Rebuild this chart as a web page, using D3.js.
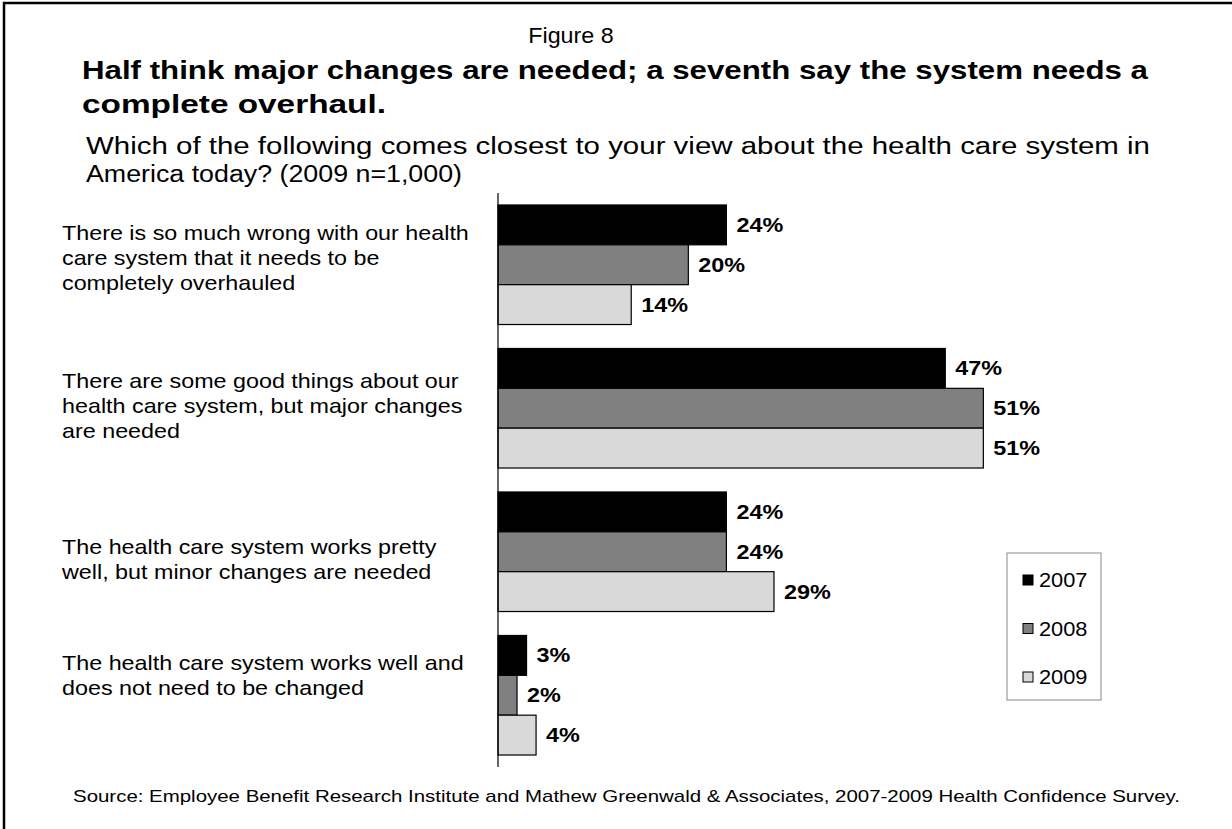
<!DOCTYPE html>
<html>
<head>
<meta charset="utf-8">
<script src="https://cdn.jsdelivr.net/npm/d3@7"></script>
<style>
  html, body { margin: 0; padding: 0; background: #fff; }
  svg { display: block; font-family: "Liberation Sans", Arial, Helvetica, sans-serif; }
</style>
</head>
<body>
<svg id="chart" width="1232" height="829"></svg>
<script>
// Survey responses, percent of respondents by year
const categories = [
  ["There is so much wrong with our health", "care system that it needs to be", "completely overhauled"],
  ["There are some good things about our", "health care system, but major changes", "are needed"],
  ["The health care system works pretty", "well, but minor changes are needed"],
  ["The health care system works well and", "does not need to be changed"]
];
const years = ["2007", "2008", "2009"];
const values2007 = [24, 47, 24, 3];
const values2008 = [20, 51, 24, 2];
const values2009 = [14, 51, 29, 4];
const yearColors = ["#000000", "#808080", "#d9d9d9"];

const titleLines = [
  "Half think major changes are needed; a seventh say the system needs a",
  "complete overhaul."
];
const questionLines = [
  "Which of the following comes closest to your view about the health care system in",
  "America today? (2009 n=1,000)"
];
const sourceText = "Source:  Employee Benefit Research Institute and Mathew Greenwald & Associates, 2007-2009 Health Confidence Survey.";

const series = [values2007, values2008, values2009];
const rows = categories.map((c, i) => ({
  key: i,
  lines: c,
  vals: years.map((y, j) => ({ year: y, idx: j, v: series[j][i] }))
}));

const svg = d3.select("#chart");

// The typeface here runs a little wider than Liberation Sans; widen each text run by a factor.
function widen(sel, factor) {
  sel.each(function() {
    const w = this.getComputedTextLength();
    d3.select(this).attr("textLength", w * factor).attr("lengthAdjust", "spacingAndGlyphs");
  });
}
// Fit a run of text to a set width.
function fitTo(sel, widthFn) {
  sel.attr("textLength", widthFn).attr("lengthAdjust", "spacingAndGlyphs");
}

// Outer frame
svg.append("rect")
  .attr("x", 4).attr("y", 3)
  .attr("width", 1240).attr("height", 840)
  .attr("fill", "none").attr("stroke", "#000").attr("stroke-width", 2.5);

// Heading block
const fig = svg.append("text")
  .attr("x", 571).attr("y", 43)
  .attr("text-anchor", "middle")
  .attr("font-size", 22)
  .text("Figure 8");
widen(fig, 1.06);

const titleWidths = [1066, 304];
const title = svg.append("g").selectAll("text")
  .data(titleLines).join("text")
  .attr("x", 82).attr("y", (d, i) => 79 + i * 34)
  .attr("font-size", 26).attr("font-weight", "bold")
  .text(d => d);
fitTo(title, (d, i) => titleWidths[i]);

const questionWidths = [1064, 376];
const question = svg.append("g").selectAll("text")
  .data(questionLines).join("text")
  .attr("x", 86).attr("y", (d, i) => 154 + i * 28)
  .attr("font-size", 23.5)
  .text(d => d);
fitTo(question, (d, i) => questionWidths[i]);

// Scales
const x0 = 498, yTop = 193, yBottom = 767;
const x = d3.scaleLinear().domain([0, 60]).range([x0, x0 + 571]);
const y = d3.scaleBand()
  .domain(rows.map(r => r.key))
  .range([yTop, yBottom])
  .paddingInner(0.167)
  .paddingOuter(0.0835);
const ySub = d3.scaleBand().domain(years).range([0, y.bandwidth()]);

// Bars
const groups = svg.append("g").selectAll("g")
  .data(rows).join("g")
  .attr("transform", d => `translate(0,${y(d.key)})`);

groups.selectAll("rect")
  .data(d => d.vals).join("rect")
  .attr("x", x(0))
  .attr("y", d => ySub(d.year))
  .attr("width", d => x(d.v) - x(0))
  .attr("height", ySub.bandwidth())
  .attr("fill", d => yearColors[d.idx])
  .attr("stroke", "#000").attr("stroke-width", 1.2);

const vals = groups.selectAll("text.val")
  .data(d => d.vals).join("text")
  .attr("class", "val")
  .attr("x", d => x(d.v) + 10)
  .attr("y", d => ySub(d.year) + ySub.bandwidth() / 2 + 7)
  .attr("font-size", 20).attr("font-weight", "bold")
  .text(d => d.v + "%");
widen(vals, 1.17);

// Category axis line
svg.append("line")
  .attr("x1", x0).attr("x2", x0)
  .attr("y1", yTop).attr("y2", yBottom)
  .attr("stroke", "#000").attr("stroke-width", 1.2);

// Category labels, nudged vertically per group
const lineH = 25;
const labelNudge = [-7, -2.5, 7.5, -20];
const catLabels = svg.append("g").selectAll("text")
  .data(rows).join("text")
  .attr("font-size", 21)
  .each(function(d) {
    const cy = y(d.key) + y.bandwidth() / 2 + labelNudge[d.key];
    const startY = cy - (d.lines.length - 1) * lineH / 2 + 7.5;
    d3.select(this).selectAll("tspan")
      .data(d.lines).join("tspan")
      .attr("x", 62)
      .attr("y", (l, i) => startY + i * lineH)
      .text(l => l);
  });
widen(catLabels.selectAll("tspan"), 1.11);

// Legend
const lg = svg.append("g");
lg.append("rect")
  .attr("x", 1007).attr("y", 553).attr("width", 94).attr("height", 147)
  .attr("fill", "#fff").attr("stroke", "#888").attr("stroke-width", 1);
const items = lg.selectAll("g").data(years).join("g")
  .attr("transform", (d, i) => `translate(1023,${580 + i * 48.5})`);
items.append("rect")
  .attr("x", 0).attr("y", -5).attr("width", 10).attr("height", 10)
  .attr("fill", (d, i) => yearColors[i])
  .attr("stroke", "#000").attr("stroke-width", 1);
const legText = items.append("text")
  .attr("x", 16).attr("y", 7)
  .attr("font-size", 20)
  .text(d => d);
widen(legText, 1.09);

// Source note
const src = svg.append("text")
  .attr("x", 73).attr("y", 802)
  .attr("font-size", 17)
  .text(sourceText);
fitTo(src, 1107);
</script>
</body>
</html>
